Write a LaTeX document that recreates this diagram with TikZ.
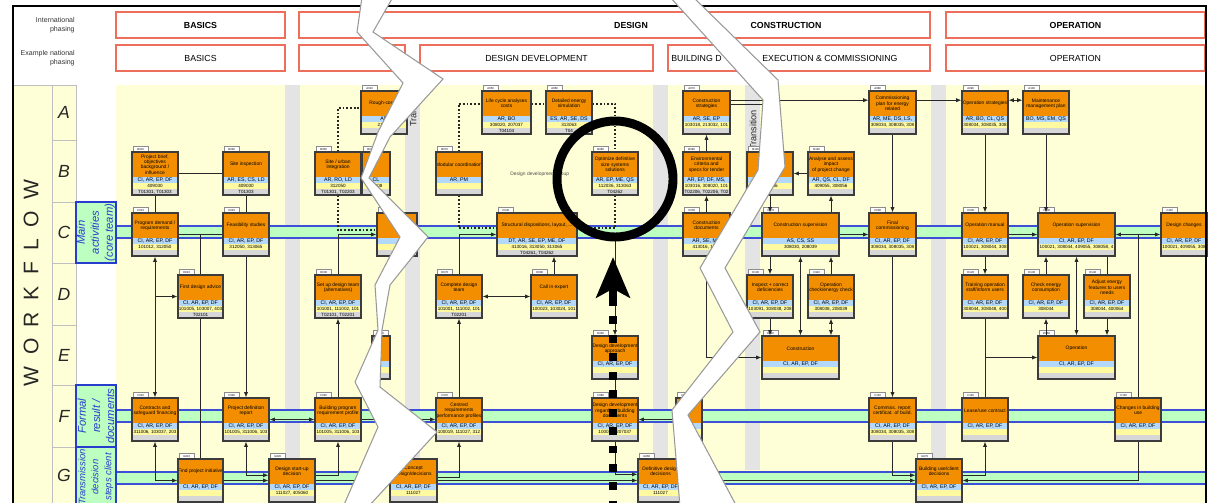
\documentclass[tikz,border=0pt]{standalone}
\usepackage{fontspec}
\setmainfont{Liberation Sans}
\usetikzlibrary{arrows.meta}
\definecolor{borange}{RGB}{242,142,0}
\definecolor{bblue}{RGB}{180,216,250}
\definecolor{byellow}{RGB}{255,250,160}
\definecolor{bgray}{RGB}{215,215,215}
\definecolor{bline}{RGB}{60,60,60}
\definecolor{mainy}{RGB}{255,255,215}
\definecolor{stripg}{RGB}{228,228,228}
\definecolor{bandg}{RGB}{188,255,192}
\definecolor{bandb}{RGB}{60,80,215}
\definecolor{hred}{RGB}{238,110,92}
\definecolor{lblue}{RGB}{40,60,205}
\definecolor{cgray}{RGB}{40,40,40}
\newcommand\setfs[2]{\fontsize{#1}{#2}\selectfont}
\tikzset{
    BOXF/.style ={rectangle,draw=bline,line width=0.7pt,minimum height=0.86cm,inner sep=0pt},
    BTI/.style ={inner sep=0pt,align=center,font=\setfs{2.8}{3.1}},
    BRO/.style ={inner sep=0pt,font=\setfs{3}{3.2}},
    BCO/.style ={inner sep=0pt,font=\setfs{2.6}{3}},
    TAB/.style ={draw=black!45,fill=white,line width=0.3pt,anchor=south west,minimum width=0.3cm,minimum height=0.1cm,inner sep=0pt,font=\setfs{1.6}{1.8}},
    HB/.style ={rectangle,draw=hred,line width=0.8pt,fill=white,minimum height=0.52cm,inner sep=0pt,font=\setfs{5}{6}},
    HBR/.style ={draw=hred,line width=0.8pt,fill=white},
    HT/.style ={inner sep=0pt,font=\setfs{5}{6}},
    PH/.style ={anchor=east,align=right,inner sep=0pt,font=\setfs{4}{4.8},text=black!80},
    ROWL/.style ={inner sep=0pt,font=\setfs{10}{12}\itshape,text=black!85},
    WFL/.style ={rotate=90,inner sep=0pt,font=\setfs{12}{14},text=black!85},
    CELL/.style ={draw=black!25,line width=0.5pt},
    LBOX/.style ={draw=lblue,line width=0.9pt,fill=bandg},
    LTXT/.style ={rotate=90,align=center,inner sep=0pt,text=lblue,font=\setfs{6.4}{8}\itshape},
    BANDL/.style ={draw=bandb,line width=0.6pt},
    TRN/.style ={rotate=90,inner sep=0pt,font=\setfs{5.2}{6},text=black!85},
    NOTE/.style ={anchor=west,inner sep=0pt,font=\setfs{2.8}{3},text=black!70},
    LN/.style ={draw=cgray,line width=0.45pt},
    ARR/.style ={LN,-{Latex[length=3pt,width=2.4pt]}},
    DARR/.style ={LN,{Latex[length=3pt,width=2.4pt]}-{Latex[length=3pt,width=2.4pt]}},
    DOT/.style ={draw=black!85,line width=1pt,dash pattern=on 1pt off 1.1pt},
    TEAR/.style ={fill=white,draw=black!40,line width=0.6pt},
    FRAME/.style ={draw=black,line width=1.2pt},
    RING/.style ={draw=black,line width=5.1pt},
    BIGD/.style ={draw=black,line width=5pt,dash pattern=on 4.5pt off 6pt},
    BIGA/.style ={draw=black,line width=5pt,-{Stealth[length=23pt,width=19pt,inset=5pt]}}}
% #1 name, #2 x, #3 y, #4 width, #5 id, #6 title, #7 roles, #8 codes, #9 refs
\newcommand\actbox[9]{%
    \pgfmathsetlengthmacro\bw{#4*0.02cm}%
    \node[TAB] (#1-id) at (#2+1,#3) {#5};
    \fill[borange] (#2,#3) rectangle (#2+#4,#3+25);
    \fill[bblue] (#2,#3+25) rectangle (#2+#4,#3+31);
    \fill[byellow] (#2,#3+31) rectangle (#2+#4,#3+37);
    \fill[bgray] (#2,#3+37) rectangle (#2+#4,#3+43);
    \node[BTI] (#1-t) at (#2+#4/2,#3+12.5) {#6};
    \node[BRO] (#1-r) at (#2+#4/2,#3+28) {#7};
    \node[BCO] (#1-c) at (#2+#4/2,#3+34) {#8};
    \node[BCO] (#1-f) at (#2+#4/2,#3+40) {#9};
    \node[BOXF,minimum width=\bw] (#1) at (#2+#4/2,#3+21.5) {};}
\begin{document}
\begin{tikzpicture}[x=0.02cm,y=-0.02cm]
    \useasboundingbox (0,0) rectangle (1219,503);
    \fill[white] (0,0) rectangle (1219,503);
    % phasing headers
    \node[PH] (phint) at (75,25) {International\\phasing};
    \node[PH] (phnat) at (75,58) {Example national\\phasing};
    \node[HB,minimum width=3.38cm] (hbas1) at (200.5,25) {\bfseries BASICS};
    \draw[HBR] (299,12) rectangle (930,38);
    \node[HT] (hdes) at (631,25) {\bfseries DESIGN};
    \node[HT] (hcon) at (786,25) {\bfseries CONSTRUCTION};
    \node[HB,minimum width=5.18cm] (hop1) at (1075.5,25) {\bfseries OPERATION};
    \node[HB,minimum width=3.38cm] (hbas2) at (200.5,58) {BASICS};
    \draw[HBR] (299,45) rectangle (405,71);
    \node[HB,minimum width=4.66cm] (hdd) at (536.5,58) {DESIGN DEVELOPMENT};
    \draw[HBR] (668,45) rectangle (930,71);
    \node[HT,anchor=west] (hbd) at (671,58) {BUILDING D};
    \node[HT,anchor=west] (hexe) at (762,58) {EXECUTION \& COMMISSIONING};
    \node[HB,minimum width=5.18cm] (hop2) at (1075.5,58) {OPERATION};
    % workflow area
    \fill[mainy] (116,85) rectangle (1206,506);
    \fill[mainy] (13,85) rectangle (76,506);
    \foreach \sx in {285,405,653,745,931}
        \fill[stripg] (\sx,85) rectangle (\sx+15,470);
    \draw[CELL] (13,85) -- (76,85) (52,85) -- (52,506) (76,85) -- (76,506);
    \foreach \ry in {140,202,263,325,385,447}
        \draw[CELL] (52,\ry) -- (76,\ry);
    \foreach \rl/\ry in {A/112,B/171,C/232,D/294,E/355,F/416,G/475}
        \node[ROWL] (row\rl) at (64,\ry) {\rl};
    \node[WFL] (wflow) at (31,283) {W\hspace{6.5pt}O\hspace{6.5pt}R\hspace{6.5pt}K\hspace{6.5pt}F\hspace{6.5pt}L\hspace{6.5pt}O\hspace{6.5pt}W};
    \foreach \by in {226,410,472}{
        \fill[bandg] (116,\by) rectangle (1206,\by+12);
        \draw[BANDL] (116,\by) -- (1206,\by) (116,\by+12) -- (1206,\by+12);}
    \draw[LBOX] (76,202) rectangle (116,263);
    \draw[LBOX] (76,385) rectangle (116,447);
    \draw[LBOX] (76,447) rectangle (116,507);
    \node[LTXT] (lblc) at (96,232.5) {Main\\activities\\(core team)};
    \node[LTXT] (lblf) at (96,416) {Formal\\result /\\documents};
    \node[LTXT,font=\setfs{5.4}{7.4}\itshape] (lblg) at (96,477) {Transmission\\decision\\steps client};
    \node[TRN] (trans1) at (413,107) {Transition};
    \node[TRN] (trans2) at (753,130) {Transition};
    \node[NOTE] (ddgroup) at (510,174) {Design development group};
    % row A
    \actbox{a010}{361}{91}{46}{A010}{Rough-cost e}{AR}{21301}{T0}
    \actbox{a050}{482}{91}{49}{A050}{Life cycle analyses\\costs}{AR, BO}{308020, 207037}{T04104}
    \actbox{a060}{546}{91}{46}{A060}{Detailed energy\\simulation}{ES, AR, SE, DS}{313063}{T04}
    \actbox{a070}{683}{91}{47}{A070}{Construction\\strategies}{AR, SE, EP}{103018, 213032, 101}{}
    \actbox{a080}{869}{91}{47}{A080}{Commissioning\\plan for energy\\related}{AR, ME, DS, LS,}{308034, 308035, 308}{}
    \actbox{a090}{962}{91}{46}{A090}{Operation strategies}{AR, BO, CL, QS}{308034, 308035, 308}{}
    \actbox{a100}{1023}{91}{46}{A100}{Maintenance\\management plan}{BO, MS, EM, QS}{}{}
    % row B
    \actbox{b010}{132}{152}{46}{B010}{Project brief,\\objectives\\background /\\influence}{CI, AR, EP, DF}{409030}{T01301, T01303}
    \actbox{b030}{223}{152}{46}{B030}{Site inspection}{AR, ES, CS, LD}{409030}{T01303}
    \actbox{b050}{315}{152}{46}{B050}{Site / urban\\integration}{AR, RO, LD}{312050}{T01301, T02203}
    \actbox{b060}{362}{152}{28}{B060}{}{CL}{8, 308}{}
    \actbox{b070}{436}{152}{46}{B070}{Modular coordination}{AR, PM}{}{}
    \actbox{b080}{592}{152}{46}{B080}{Optimize definitive\\size systems\\solutions}{AR, EP, ME, QS}{112036, 313063}{T04262}
    \actbox{b090}{683}{152}{47}{B090}{Environmental\\criteria and\\specs for tender}{AR, EP, DF, MS,}{103016, 308020, 101}{T02206, T02206, T02}
    \actbox{b100}{747}{152}{46}{B100}{}{CL}{308056}{}
    \actbox{b120}{808}{152}{46}{B120}{Analyse and assess\\impact\\of project change}{AR, QS, CL, DF}{409055, 308056}{}
    % row C
    \actbox{c010}{132}{213}{46}{C010}{Program demand /\\requirements}{CI, AR, EP, DF}{101012, 312050}{}
    \actbox{c020}{223}{213}{46}{C020}{Feasibility studies}{CI, AR, EP, DF}{312050, 313065}{}
    \actbox{c030}{377}{213}{40}{C030}{}{}{}{}
    \actbox{c040}{497}{213}{80}{C040}{Structural dispositions, layout, ...}{DT, AR, SE, EP, ME, DF}{413016, 313050, 313065}{T04261, T04262}
    \actbox{c050}{683}{213}{47}{C050}{Construction\\documents}{AR, SE, ME}{413016, 1030}{}
    \actbox{c070}{762}{213}{77}{C070}{Construction supervision}{AS, CS, SS}{308030, 208039}{}
    \actbox{c080}{869}{213}{47}{C080}{Final\\commissioning}{CI, AR, EP, DF}{308034, 308035, 308}{}
    \actbox{c090}{962}{213}{46}{C090}{Operation manual}{CI, AR, EP, DF}{100021, 308044, 308}{}
    \actbox{c100}{1038}{213}{77}{C100}{Operation supervision}{CI, AR, EP, DF}{100021, 308044, 409055, 308058, 4}{}
    \actbox{c110}{1161}{213}{46}{C110}{Design changes}{CI, AR, EP, DF}{100021, 409055, 308}{}
    % row D
    \actbox{d010}{178}{275}{45}{D010}{First design advice}{CI, AR, EP, DF}{101005, 103007, 403}{T02101}
    \actbox{d030}{315}{275}{46}{D030}{Set up design team\\(alternatives)}{CI, AR, EP, DF}{101001, 111002, 101}{T02101, T02201}
    \actbox{d070}{436}{275}{46}{D070}{Complete design\\team}{CI, AR, EP, DF}{101001, 111002, 101}{T02201}
    \actbox{d080}{531}{275}{46}{D080}{Call in expert}{CI, AR, EP, DF}{100023, 103024, 101}{}
    \actbox{d100}{747}{275}{46}{D100}{Inspect + correct\\deficiencies}{CI, AR, EP, DF}{103091, 308038, 208}{}
    \actbox{d110}{808}{275}{46}{D110}{Operation\\check/energy check}{CI, AR, EP, DF}{308038, 208039}{}
    \actbox{d120}{962}{275}{46}{D120}{Training operation\\staff/inform users}{CI, AR, EP, DF}{308044, 308048, 400}{}
    \actbox{d130}{1023}{275}{46}{D130}{Check energy\\consumption}{CI, AR, EP, DF}{308044}{}
    \actbox{d140}{1084}{275}{46}{D140}{Adjust energy\\features to users\\needs}{CI, AR, EP, DF}{308044, 400064}{}
    % row E
    \actbox{e020}{372}{336}{18}{E020}{}{}{}{}
    \actbox{e030}{592}{336}{46}{E030}{Design development\\approach}{CI, AR, EP, DF}{}{}
    \actbox{e040}{762}{336}{77}{E040}{Construction}{CI, AR, EP, DF}{}{}
    \actbox{e050}{1038}{336}{77}{E050}{Operation}{CI, AR, EP, DF}{}{}
    % row F
    \actbox{f010}{132}{398}{46}{F010}{Contracts and\\safeguard financing}{CI, AR, EP, DF}{311006, 103037, 203}{}
    \actbox{f020}{223}{398}{46}{F020}{Project definition\\report}{CI, AR, EP, DF}{101005, 311006, 103}{}
    \actbox{f030}{315}{398}{46}{F030}{Building program\\requirement profile}{CI, AR, EP, DF}{101005, 311006, 103}{}
    \actbox{f070}{436}{398}{46}{F070}{Centred\\requirements\\performance profiles}{CI, AR, EP, DF}{100019, 111027, 312}{}
    \actbox{f080}{592}{398}{46}{F080}{Design development\\regarding building\\documents}{CI, AR, EP, DF}{100019, 207037}{}
    \actbox{f090}{676}{398}{26}{F090}{cts}{DF}{}{}
    \actbox{f110}{869}{398}{47}{F110}{Commiss. report\\certificat. of build.}{CI, AR, EP, DF}{308034, 308035, 308}{}
    \actbox{f120}{962}{398}{46}{F120}{Lease/use contract}{CI, AR, EP, DF}{}{}
    \actbox{f130}{1115}{398}{46}{F130}{Changes in building\\use}{CI, AR, EP, DF}{}{}
    % row G
    \actbox{g010}{178}{459}{45}{G010}{Find project initiative}{CI, AR, EP, DF}{}{}
    \actbox{g020}{269}{459}{46}{G020}{Design start-up\\decision}{CI, AR, EP, DF}{111027, 405060}{}
    \actbox{g040}{390}{459}{47}{G040}{Concept\\design/decisions}{CI, AR, EP, DF}{111027}{}
    \actbox{g060}{638}{459}{45}{G060}{Definitive design\\decisions}{CI, AR, EP, DF}{111027}{}
    \actbox{g070}{916}{459}{46}{G070}{Building use/client\\decisions}{CI, AR, EP, DF}{}{}
    % connectors, left part
    \draw[LN] (b010) -- (b030);
    \draw[LN] (b010) -- (c010);
    \draw[LN] (b030) -- (c020);
    \draw[LN] (c010) -- (c020);
    \draw[LN] (d010.north) -- (d010.north |- c010.east);
    \draw[LN] (g010) -- (d010);
    \draw[DARR] (c010) -- (f010);
    \draw[ARR] (c010.south |- d010.west) -- (d010.west);
    \draw[ARR] (c020) -- (f020);
    \draw[DARR] (f010.south) |- (g010.west);
    \draw[ARR] (g010) -- (g020);
    \draw[DARR] (f020.south) |- ([yshift=3pt]g020.west);
    \draw[DARR] (f020) -- (f030);
    \draw[ARR] ([yshift=3pt]g020.east) -| (f030.south);
    \draw[ARR] (g020) -- (g040);
    \draw[ARR] (f030) -- (d030);
    \draw[ARR] (d030.north) |- (c030.west);
    \draw[DOT] (b050.south) |- ([yshift=2.5pt]c030.west);
    \draw[DOT] (b050.north) |- ([yshift=2.5pt]a010.west);
    \draw[DOT] (b070.north) |- ([yshift=5pt]a050.west);
    \draw[DOT] ([yshift=5pt]a050.east) -- ([yshift=5pt]a060.west);
    \draw[DOT] ([yshift=5pt]a060.east) -| (b080.north);
    \draw[DOT] (b070.south) |- ([yshift=3.5pt]c040.west);
    \draw[DOT] (b080.south) |- ([yshift=3.5pt]c040.east);
    \draw[ARR] (d070.north) |- (c040.west);
    \draw[DARR] (d070) -- (d080);
    \draw[ARR] (d080.north) -- (d080.north |- c040.south);
    \draw[ARR] (f070) -- (d070);
    \draw[ARR] (f030) -- (f070);
    \draw[ARR] ([yshift=2pt]g040.east) -| (f070.south);
    \draw[ARR] (g040) -- (g060);
    \draw[ARR] (e030) -- (f080);
    \draw[ARR] (e030.north |- c040.east) -- (e030.north);
    \draw[ARR] (f080.south) |- ([yshift=3.5pt]g060.west);
    \draw[ARR] (f090) -- (f080);
    % connectors, right part
    \draw[ARR] (c050) -- (b090);
    \draw[ARR] (b090) -- (a070);
    \draw[ARR] ([yshift=7pt]a070.east) -- ([yshift=7pt]a080.west);
    \draw[ARR] ([yshift=4.5pt]a070.east) -| (b100.north);
    \draw[ARR] (b120) -- (b100);
    \draw[ARR] (b120.south |- c070.north) -- (b120.south);
    \draw[ARR] (b100.south) -- (b100.south |- c070.north);
    \draw[ARR] (c070) -- (c080);
    \draw[ARR] (c050.south) |- (e040.west);
    \draw[ARR] (d100.north |- c070.south) -- (d100.north);
    \draw[ARR] (d100.south) -- (d100.south |- e040.north);
    \draw[DARR] (c070.south) -- (c070.south |- e040.north);
    \draw[ARR] (d110.north) -- (d110.north |- c070.south);
    \draw[DARR] (d110.south) -- (d110.south |- e040.north);
    \draw[ARR] (a080) -- (c080);
    \draw[ARR] (c080) -- (f110);
    \draw[ARR] (f110.south) |- ([yshift=3pt]g070.west);
    \draw[ARR] (g060) -- (g070);
    \draw[ARR] ([yshift=3pt]g070.east) -| (f120.south);
    \draw[ARR] ([yshift=7pt]a080.east) -- ([yshift=7pt]a090.west);
    \draw[DARR] ([yshift=7pt]a090.east) -- ([yshift=7pt]a100.west);
    \draw[ARR] (a090) -- (c090);
    \draw[ARR] (a100.south) -- (a100.south |- c100.north);
    \draw[ARR] (c090) -- (c100);
    \draw[ARR] (c090) -- (d120);
    \draw[LN] (d120) -- (f120);
    \draw[ARR] (d120.south |- e050.west) -- (e050.west);
    \draw[ARR] (d130.north) -- (d130.north |- c100.south);
    \draw[ARR] (d130.south |- e050.north) -- (d130.south);
    \draw[DARR] (c100) -- (e050);
    \draw[LN] (d140.north) -- (d140.north |- c100.south);
    \draw[ARR] (d140.south) -- (d140.south |- e050.north);
    \draw[DARR] (c100) -- (c110);
    \draw[LN] (f130.north |- c100.east) -- (f130.north);
    \draw[ARR] (f130.south) |- (g070.east);
    % frame and tears
    \draw[FRAME] (13,507) -- (13,6) -- (1206,6) -- (1206,507);
    \draw[TEAR] (362,-3) -- (357,32) -- (403,83) -- (378,132) -- (361,178) -- (400,237)
        -- (375,285) -- (378,330) -- (355,382) -- (378,427) -- (343,507) -- (368,507)
        -- (437,432) -- (380,387) -- (382,330) -- (390,285) -- (410,260) -- (428,237)
        -- (369,178) -- (390,137) -- (443,79) -- (373,32) -- (393,-3) -- cycle;
    \draw[TEAR] (670,-3) -- (763,100) -- (758,170) -- (700,268) -- (733,332) -- (672,410)
        -- (680,507) -- (737,507) -- (688,415) -- (760,332) -- (725,268) -- (785,167)
        -- (778,80) -- (693,-3) -- cycle;
    % highlight
    \draw[RING] (615,179) circle [radius=58];
    \coordinate (tipend) at (613,257);
    \coordinate (tipbase) at (613,298);
    \coordinate (dashfoot) at (613,507);
    \draw[BIGD] (tipbase) -- (dashfoot);
    \draw[BIGA] (tipbase) -- (tipend);
\end{tikzpicture}
\end{document}
